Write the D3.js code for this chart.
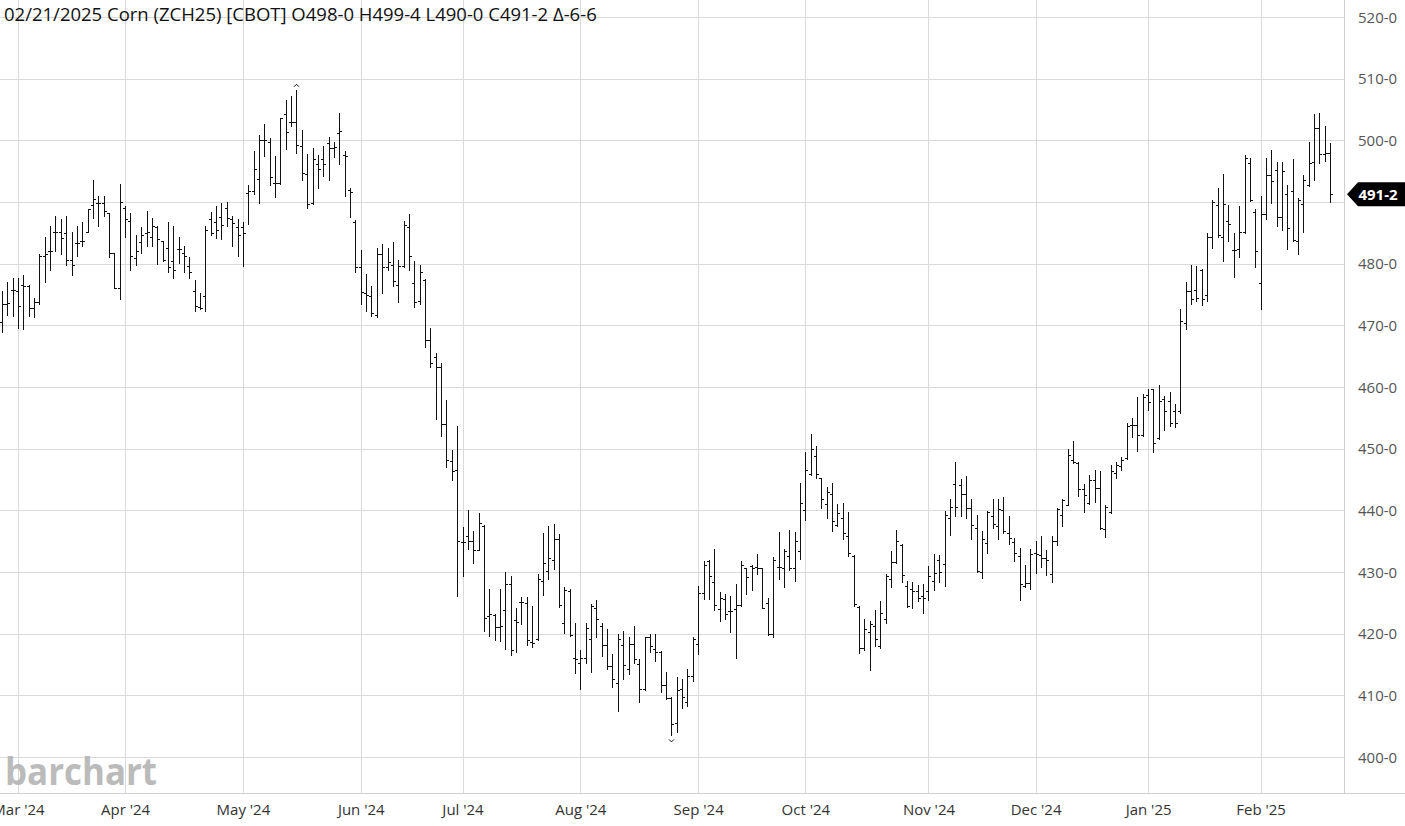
<!DOCTYPE html>
<html><head><meta charset="utf-8">
<script src="https://cdn.jsdelivr.net/npm/d3@7"></script>
<style>html,body{margin:0;padding:0;background:#fff;overflow:hidden}svg{display:block}</style>
</head><body><svg id="c" width="1405" height="826"></svg>
<script>
// ---- data ----
const startDate = "2024-02-27", endDate = "2025-02-21";
const holidays = ["2024-03-29","2024-05-27","2024-06-19","2024-07-04","2024-09-02","2024-11-28","2024-12-25","2025-01-01","2025-01-20","2025-02-17"];
const opens = [470.5,473.4,475.8,475.5,476.6,476.3,472.8,473.8,481.2,482.0,485.2,485.2,485.0,480.6,483.4,483.6,485.1,489.5,489.9,489.9,488.2,481.7,476.1,
489.1,487.0,481.0,483.5,485.0,484.4,486.0,483.6,482.5,480.5,482.4,481.8,479.6,475.5,473.0,474.8,487.2,486.8,487.6,489.0,487.2,486.0,
486.0,491.5,491.8,493.8,500.0,499.8,493.1,493.1,504.2,503.0,503.0,499.1,494.5,489.9,496.1,496.9,499.5,498.8,501.2,497.6,492.0,
486.8,479.5,475.3,474.7,471.6,481.5,479.5,479.8,476.5,479.7,485.9,476.8,474.0,477.3,467.7,464.8,463.2,454.0,448.0,446.6,
434.9,435.8,435.0,433.5,437.5,422.9,423.0,421.1,423.9,428.0,422.2,425.1,425.0,418.6,419.1,428.5,430.1,432.0,435.4,421.8,427.0,416.1,
415.2,416.1,419.1,424.1,421.3,418.1,414.8,412.0,418.1,414.2,418.3,415.1,411.0,419.4,417.5,417.0,411.7,409.5,405.5,411.0,409.0,413.2,
418.3,426.6,431.8,428.4,424.0,425.6,423.6,424.0,424.6,430.6,431.0,430.8,430.6,424.9,419.9,430.8,430.7,432.6,430.6,433.4,
440.0,445.9,448.8,445.2,441.1,442.6,437.7,438.7,435.8,432.6,424.3,417.6,420.3,421.2,418.0,422.3,428.8,431.7,434.4,427.7,427.2,427.0,426.1,
427.0,428.5,432.0,431.3,438.7,444.3,444.1,442.7,440.4,437.1,430.0,434.7,439.1,437.4,440.0,436.4,434.9,432.6,427.8,428.2,
433.0,432.7,432.3,429.6,435.0,439.2,440.9,448.1,447.7,443.4,441.2,444.9,443.6,437.0,439.7,446.0,447.2,448.5,453.8,453.8,452.2,
458.7,459.6,451.7,458.0,457.8,456.1,456.1,470.4,475.6,475.8,478.9,475.0,484.3,489.5,484.3,487.0,482.2,482.3,485.2,496.4,488.3,
476.9,488.0,494.4,495.2,487.5,491.3,491.8,483.6,489.7,492.7,496.5,502.0,497.8,498.0];
const highs = [475.5,477.1,477.7,477.7,478.2,476.6,474.5,481.5,484.3,486.1,487.8,487.2,487.8,485.1,486.1,486.8,488.9,493.5,491.0,490.9,488.2,481.7,492.9,
489.3,488.2,484.7,485.9,488.5,487.4,486.1,483.6,486.8,486.1,484.3,482.8,481.1,477.4,475.3,486.1,488.4,489.3,489.8,490.0,487.7,487.2,
486.7,492.8,498.3,500.8,502.6,500.3,497.5,503.6,506.5,507.2,508.2,501.6,497.8,498.8,497.7,499.1,500.6,499.7,504.4,498.2,492.2,
487.1,482.2,478.4,476.3,482.5,483.2,482.5,483.5,480.6,487.0,488.1,480.4,479.8,477.5,469.6,465.5,463.9,457.9,449.8,453.6,
437.3,440.1,436.6,439.6,437.7,427.3,423.2,427.3,430.0,429.3,424.1,426.0,426.0,424.5,429.7,436.3,437.5,437.8,436.1,427.5,427.2,421.8,
417.3,421.8,424.8,425.5,421.8,420.8,416.7,419.9,420.5,419.4,421.3,415.9,419.5,419.9,419.9,417.2,413.8,409.7,412.9,412.6,414.2,419.5,
427.8,431.8,431.9,433.8,426.8,426.5,426.1,428.1,431.8,430.7,431.1,433.0,430.7,425.8,432.4,436.5,433.8,436.8,436.5,444.5,
449.5,452.3,450.5,445.3,443.8,444.5,441.1,441.2,439.8,432.8,424.5,422.3,422.1,423.8,425.3,429.6,433.4,436.8,434.6,428.5,428.3,427.9,428.1,
431.0,432.9,432.8,439.9,441.9,447.8,445.1,445.6,441.8,439.2,436.7,439.9,441.8,441.8,442.2,439.1,435.5,433.9,431.1,433.8,
435.1,435.8,433.5,435.8,440.4,441.9,449.9,451.2,447.9,444.2,445.8,446.6,446.3,440.9,447.4,447.9,448.6,454.1,454.9,458.4,458.8,
459.7,459.7,460.3,458.5,459.2,457.3,472.6,477.1,479.8,479.6,479.1,485.0,490.4,492.3,494.6,489.5,484.9,489.4,497.6,497.1,488.8,
491.0,497.2,498.5,496.5,496.5,492.8,497.0,490.6,494.3,499.7,504.2,504.4,502.4,499.5];
const lows = [468.9,471.7,471.5,469.6,469.4,471.5,471.4,473.4,477.0,479.0,482.0,481.5,479.8,478.2,481.2,482.8,485.1,487.4,486.1,487.7,481.1,476.1,474.3,
484.3,479.0,479.8,481.7,482.8,482.8,479.9,480.5,478.6,477.7,480.1,478.6,477.7,472.4,472.6,472.4,484.7,484.1,484.0,486.1,482.8,481.3,
479.6,486.5,491.3,489.9,497.5,492.8,490.8,493.0,498.6,502.3,498.0,493.5,489.1,489.6,492.3,494.2,493.5,497.3,496.1,491.0,487.5,
478.7,473.4,472.3,471.5,471.4,475.2,479.0,476.4,473.8,479.5,479.0,473.0,473.4,466.5,463.2,454.8,452.1,447.1,445.0,426.1,
429.4,433.7,431.5,433.5,420.5,419.6,418.9,418.8,417.5,416.6,417.0,421.5,418.1,417.8,419.0,426.3,428.9,430.5,424.4,420.1,419.6,413.6,
411.0,415.3,413.8,419.4,416.4,414.2,411.3,407.4,412.6,413.4,415.3,408.9,410.8,417.0,415.6,410.6,409.4,403.5,404.1,407.9,408.2,412.4,
416.7,425.6,425.6,423.8,422.1,422.3,420.2,416.1,424.5,426.4,427.1,429.6,424.1,419.8,419.4,428.8,427.6,430.3,428.5,432.1,
438.5,445.8,445.2,440.3,438.7,436.6,437.5,435.4,432.6,424.5,416.9,417.3,414.1,418.0,417.6,421.8,427.6,431.4,428.3,424.3,424.1,425.3,423.4,
425.5,427.1,428.4,427.7,436.0,439.1,439.1,438.8,435.4,430.0,429.1,433.1,437.2,435.3,436.4,434.6,431.8,425.5,427.5,427.3,
429.8,430.8,429.5,428.3,434.4,437.5,440.8,447.7,442.3,439.8,441.1,441.4,436.9,435.7,439.6,445.2,446.6,448.4,451.9,449.7,452.1,
456.2,449.4,451.5,453.0,453.7,453.5,455.8,469.4,473.5,473.9,473.3,474.0,482.6,484.3,480.5,483.6,477.8,481.1,485.0,490.2,479.4,
472.6,487.3,489.8,486.1,485.5,482.3,483.6,481.5,485.2,492.6,493.5,496.3,496.6,490.0];
const closes = [473.4,473.6,475.8,473.1,476.3,472.8,473.8,481.2,481.5,482.0,485.2,484.2,480.6,479.8,483.4,483.6,488.9,490.5,489.9,488.5,481.7,476.1,490.0,
487.2,481.2,482.1,484.7,485.2,486.1,484.0,480.6,479.4,479.0,482.4,481.3,478.6,473.1,472.8,485.4,485.0,485.5,486.2,487.4,486.6,484.7,
485.0,491.8,495.3,500.0,500.0,494.0,493.1,503.6,501.3,503.0,499.3,494.7,489.7,497.0,495.3,496.2,498.8,499.0,501.5,497.4,491.6,
479.5,475.4,474.9,472.0,481.5,479.5,480.2,477.2,479.7,486.3,481.3,473.8,478.6,467.6,463.9,463.2,454.0,448.1,446.3,435.0,
434.9,435.0,433.5,438.0,422.5,423.2,421.1,421.3,428.1,417.3,421.9,425.1,418.9,418.5,428.8,431.4,432.3,435.4,424.6,427.1,419.8,415.9,
416.0,421.0,424.5,422.4,418.1,414.7,412.6,419.2,414.9,418.3,415.9,411.0,419.4,418.0,417.0,411.7,409.5,405.4,410.8,409.8,413.2,419.1,
426.6,431.2,429.4,424.6,425.8,423.2,423.7,424.6,431.1,429.2,430.7,430.6,424.2,420.0,431.9,430.8,433.4,430.7,435.0,441.2,
446.6,450.0,445.9,441.9,442.9,438.3,439.6,436.4,433.1,424.8,417.6,420.7,421.5,419.1,423.4,429.4,431.7,435.0,429.5,424.5,427.0,425.8,425.8,
429.3,429.8,430.0,439.2,440.6,440.6,442.7,440.4,437.6,430.1,435.3,439.8,437.8,440.2,436.6,435.5,433.1,428.0,428.2,432.9,
432.9,432.3,431.9,435.0,440.2,441.6,448.9,447.8,443.4,442.5,445.0,443.6,437.1,440.6,446.3,447.3,448.1,453.7,453.9,452.2,458.4,
457.5,451.0,457.8,456.1,454.2,454.2,470.7,475.6,474.2,474.4,474.2,484.3,490.0,484.6,489.7,486.5,482.2,485.2,497.2,490.3,482.1,
488.0,494.4,493.4,487.5,495.0,485.8,483.9,490.4,493.5,496.3,502.0,497.8,498.0,491.25];
const yTicks = [400,410,420,430,440,450,460,470,480,490,500,510,520];
const title = "02/21/2025 Corn (ZCH25) [CBOT] O498-0 H499-4 L490-0 C491-2 \u0394-6-6";
const lastClose = 491.25;

// ---- trading calendar ----
const parse = d3.utcParse("%Y-%m-%d"), fmtDay = d3.utcFormat("%Y-%m-%d");
const hol = new Set(holidays);
const dates = d3.utcDays(parse(startDate), d3.utcDay.offset(parse(endDate), 1))
  .filter(d => d.getUTCDay() !== 0 && d.getUTCDay() !== 6 && !hol.has(fmtDay(d)));
const bars = dates.map((d, i) => ({d, i, o: opens[i], h: highs[i], l: lows[i], c: closes[i]}));

// ---- layout ----
const W = 1405, H = 826, PR = 1344.5, PB = 793;
const svg = d3.select("#c");
const x = d3.scaleLinear().domain([-0.3547, 250.67]).range([0, PR]);
const y = d3.scaleLinear().domain([400, 520]).range([757, 17]);
const fmtPrice = v => { const w = Math.floor(v + 1e-9); return w + "-" + Math.round((v - w) * 8); };
const font = "'Open Sans', 'Noto Sans', sans-serif";

const monthIdx = bars.filter((b, i) => i > 0 && b.d.getUTCMonth() !== bars[i - 1].d.getUTCMonth()).map(b => b.i);
const fmtMonth = d3.utcFormat("%b '%y");

svg.append("defs").append("clipPath").attr("id", "plot").append("rect").attr("x", 0).attr("y", 0).attr("width", PR).attr("height", PB);

// gridlines
const grid = svg.append("g").attr("clip-path", "url(#plot)");
grid.selectAll(".hg").data(yTicks).join("line")
  .attr("x1", 0).attr("x2", PR).attr("y1", d => Math.round(y(d)) + 0.5).attr("y2", d => Math.round(y(d)) + 0.5)
  .attr("stroke", "#dadada").attr("stroke-width", 1);
grid.selectAll(".vg").data(monthIdx).join("line")
  .attr("y1", 0).attr("y2", PB).attr("x1", d => Math.round(x(d)) + 0.5).attr("x2", d => Math.round(x(d)) + 0.5)
  .attr("stroke", "#dadada").attr("stroke-width", 1);

// frame
svg.append("line").attr("x1", PR).attr("x2", PR).attr("y1", 0).attr("y2", PB).attr("stroke", "#cfcfcf");
svg.append("line").attr("x1", 0).attr("x2", W).attr("y1", PB + 0.5).attr("y2", PB + 0.5).attr("stroke", "#cfcfcf");

// watermark
svg.append("text").attr("x", 5).attr("y", 785).text("barchart")
  .attr("font-family", font).attr("font-weight", 700).attr("font-size", 38)
  .attr("textLength", 152).attr("lengthAdjust", "spacingAndGlyphs")
  .attr("fill", "#b4b4b4").attr("opacity", 0.9);

// OHLC bars
const g = svg.append("g").attr("clip-path", "url(#plot)").attr("stroke", "#111").attr("stroke-width", 1).attr("shape-rendering", "crispEdges");
const bx = b => Math.round(x(b.i)) + 0.5;
const bg = g.selectAll("g.bar").data(bars).join("g").attr("class", "bar");
bg.append("line").attr("x1", bx).attr("x2", bx).attr("y1", b => y(b.h)).attr("y2", b => y(b.l) + 1);
bg.append("line").attr("x1", b => bx(b) - 2.5).attr("x2", b => bx(b)).attr("y1", b => Math.round(y(b.o)) + 0.5).attr("y2", b => Math.round(y(b.o)) + 0.5);
bg.append("line").attr("x1", b => bx(b)).attr("x2", b => bx(b) + 2.5).attr("y1", b => Math.round(y(b.c)) + 0.5).attr("y2", b => Math.round(y(b.c)) + 0.5);

// highest high / lowest low markers
const hiBar = bars[d3.maxIndex(bars, b => b.h)], loBar = bars[d3.minIndex(bars, b => b.l)];
svg.append("path").attr("d", `M${bx(hiBar) - 2.5},${y(hiBar.h) - 3} L${bx(hiBar)},${y(hiBar.h) - 5.5} L${bx(hiBar) + 2.5},${y(hiBar.h) - 3}`)
  .attr("fill", "none").attr("stroke", "#111").attr("stroke-width", 1);
svg.append("path").attr("d", `M${bx(loBar) - 2.5},${y(loBar.l) + 4} L${bx(loBar)},${y(loBar.l) + 6.5} L${bx(loBar) + 2.5},${y(loBar.l) + 4}`)
  .attr("fill", "none").attr("stroke", "#111").attr("stroke-width", 1);

// last price tag position (hides the axis label it covers)
const ty = y(lastClose);

// y axis (right)
const yShown = yTicks.filter(v => Math.abs(y(v) - ty) > 14);
const yAxis = d3.axisRight(y).tickValues(yShown).tickFormat(fmtPrice).tickSize(0).tickPadding(0);
const ya = svg.append("g").attr("transform", `translate(1358,0)`).call(yAxis);
ya.select(".domain").remove();
ya.selectAll("text").attr("font-family", font).attr("font-size", 15).attr("fill", "#555").attr("dy", "0.35em");

// x axis (bottom)
const xAxis = d3.axisBottom(x).tickValues(monthIdx).tickFormat(i => fmtMonth(dates[i])).tickSize(0).tickPadding(0);
const xa = svg.append("g").attr("transform", `translate(0,${PB + 11})`).call(xAxis);
xa.select(".domain").remove();
xa.selectAll("text").attr("font-family", font).attr("font-size", 15).attr("fill", "#333").attr("dy", "0.71em");

// last price tag
svg.append("path").attr("d", `M1347,${ty} L1358,${ty - 12} L1405,${ty - 12} L1405,${ty + 12} L1358,${ty + 12} Z`).attr("fill", "#000");
svg.append("text").attr("x", 1378).attr("y", ty).attr("dy", "0.36em").attr("text-anchor", "middle")
  .attr("font-family", font).attr("font-weight", 700).attr("font-size", 15).attr("fill", "#fff").text(fmtPrice(lastClose));

// title
svg.append("text").attr("x", 4).attr("y", 21).text(title)
  .attr("font-family", font).attr("font-size", 18.5).attr("fill", "#111");
</script></body></html>
